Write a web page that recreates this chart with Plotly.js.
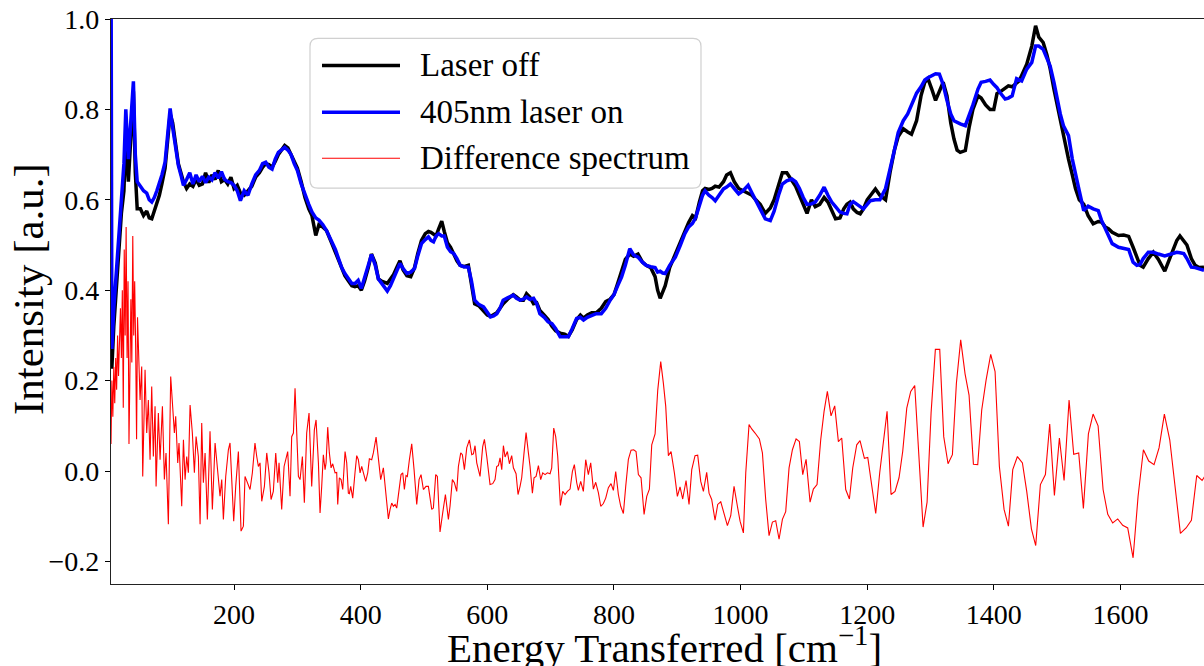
<!DOCTYPE html>
<html>
<head>
<meta charset="utf-8">
<script src="https://cdn.plot.ly/plotly-3.0.1.min.js"></script>
<style>
html,body{margin:0;padding:0;background:#fff;overflow:hidden;}
#chart{width:1204px;height:666px;}
</style>
</head>
<body>
<div id="chart"></div>
<script>
// ---- data ----
const shiftX = [5.6,7,10,14,18,22,26,29,33,37,41,44,47,52,57,62,66,70,74,78,82,86,91,95,99,103,107,112,116,120,125,130,135,140,145,150,155,160,165,170,175,180,185,190,195,200,205,210,216,222,228,234,240,245,250,255,260,265,270,275,280,285,290,295,300,306,312,318,323,329,334,340,346,354,360,365,370,375,381,386,391,396,401,406,412,417,423,428,433,438,442,447,452,457,462,467,473,479,485,490,496,502,507,511,515,519,523,528,532,537,542,547,552,557,563,570,575,580,587,594,600,605,610,615,620,625,632,641,646,652,657,662,667,673,678,683,690,696,702,708,715,722,728,734,741,747,752,758,765,772,780,787,794,800,806,812,818,825,831,838,845,851,858,865,869,873,877,881,888,897,905,912,918,924,929,935,940,944,950,955,960,966,973,978,984,990,997,1004,1012,1018,1024,1031,1039,1047,1053,1060,1066,1073,1081,1087,1093,1099,1105,1112,1118,1125,1132,1138,1144,1150,1157,1163,1168,1173,1178,1184,1189,1194,1200,1205,1213,1220,1229,1236,1243,1249,1257,1264,1270,1278,1285,1291,1296,1302,1308,1314,1320,1326,1332,1337,1342,1347,1355,1361,1367,1375,1380,1387,1394,1400,1405,1411,1418,1423,1429,1436,1440,1444,1452,1460,1466,1471,1478,1484,1489,1495,1500,1505,1510,1518,1524,1529,1535,1542,1549,1557,1565,1570,1576,1581,1587,1597,1605,1613,1620,1626,1631,1636,1644,1652,1660,1670,1680,1689,1694,1700,1705,1712,1718,1724,1732];
const laserOn = [1.2,0.27,0.36,0.45,0.53,0.60,0.68,0.80,0.69,0.78,0.862,0.70,0.64,0.63,0.62,0.615,0.60,0.595,0.605,0.62,0.635,0.655,0.683,0.74,0.802,0.76,0.727,0.676,0.655,0.632,0.645,0.66,0.635,0.655,0.64,0.652,0.638,0.65,0.644,0.66,0.648,0.662,0.645,0.64,0.638,0.632,0.62,0.598,0.62,0.61,0.635,0.655,0.665,0.68,0.683,0.672,0.668,0.69,0.705,0.71,0.716,0.71,0.70,0.68,0.665,0.635,0.61,0.59,0.573,0.56,0.555,0.545,0.532,0.51,0.49,0.47,0.45,0.437,0.425,0.415,0.415,0.422,0.404,0.425,0.455,0.479,0.455,0.425,0.415,0.405,0.398,0.41,0.425,0.44,0.459,0.448,0.437,0.44,0.448,0.475,0.503,0.512,0.518,0.51,0.507,0.52,0.525,0.52,0.52,0.495,0.485,0.481,0.47,0.455,0.452,0.451,0.42,0.378,0.368,0.363,0.35,0.341,0.343,0.348,0.36,0.378,0.383,0.389,0.382,0.378,0.38,0.385,0.38,0.382,0.37,0.348,0.34,0.33,0.326,0.315,0.297,0.298,0.297,0.315,0.3375,0.34,0.334,0.34,0.345,0.348,0.348,0.36,0.378,0.39,0.41,0.429,0.455,0.492,0.478,0.473,0.462,0.455,0.452,0.45,0.44,0.442,0.438,0.437,0.455,0.473,0.5,0.525,0.54,0.548,0.56,0.59,0.61,0.62,0.61,0.605,0.598,0.61,0.624,0.628,0.635,0.625,0.613,0.62,0.632,0.615,0.598,0.58,0.558,0.554,0.575,0.61,0.635,0.642,0.646,0.64,0.625,0.605,0.59,0.591,0.595,0.61,0.628,0.61,0.595,0.585,0.573,0.57,0.569,0.59,0.596,0.59,0.585,0.58,0.59,0.598,0.6,0.6,0.625,0.665,0.71,0.749,0.775,0.79,0.81,0.836,0.85,0.865,0.87,0.875,0.879,0.878,0.855,0.82,0.79,0.775,0.771,0.768,0.764,0.785,0.81,0.845,0.86,0.862,0.865,0.855,0.848,0.835,0.823,0.825,0.83,0.868,0.866,0.863,0.889,0.904,0.94,0.94,0.933,0.915,0.896,0.86,0.823,0.79,0.764,0.742,0.69,0.661,0.62,0.576,0.586,0.58,0.576,0.555,0.536,0.52,0.503,0.495,0.493,0.49,0.462,0.455,0.457,0.47,0.484,0.484,0.48,0.476,0.48,0.484,0.483,0.481,0.47,0.451,0.45,0.447,0.444];
const laserOff = [0.23,0.23,0.32,0.41,0.50,0.57,0.62,0.74,0.64,0.74,0.84,0.66,0.58,0.58,0.565,0.575,0.56,0.558,0.575,0.59,0.61,0.635,0.67,0.73,0.79,0.77,0.73,0.68,0.66,0.64,0.625,0.635,0.63,0.645,0.632,0.635,0.66,0.638,0.655,0.645,0.665,0.64,0.645,0.635,0.65,0.625,0.632,0.615,0.61,0.62,0.63,0.65,0.66,0.672,0.68,0.678,0.672,0.685,0.70,0.71,0.72,0.715,0.70,0.685,0.67,0.64,0.605,0.58,0.565,0.521,0.545,0.54,0.532,0.505,0.485,0.465,0.45,0.432,0.42,0.41,0.408,0.41,0.40,0.42,0.45,0.48,0.46,0.425,0.42,0.418,0.415,0.425,0.435,0.45,0.465,0.445,0.432,0.43,0.45,0.48,0.51,0.525,0.53,0.528,0.525,0.52,0.535,0.553,0.53,0.505,0.495,0.48,0.465,0.455,0.452,0.455,0.41,0.37,0.365,0.355,0.345,0.342,0.345,0.35,0.36,0.37,0.38,0.39,0.385,0.378,0.378,0.392,0.385,0.37,0.372,0.355,0.345,0.335,0.32,0.31,0.305,0.303,0.298,0.312,0.335,0.345,0.338,0.345,0.35,0.35,0.36,0.375,0.38,0.39,0.415,0.44,0.468,0.48,0.475,0.48,0.462,0.455,0.45,0.43,0.40,0.382,0.395,0.41,0.45,0.48,0.505,0.53,0.55,0.565,0.56,0.595,0.62,0.625,0.623,0.625,0.63,0.628,0.64,0.655,0.66,0.64,0.625,0.62,0.615,0.61,0.6,0.59,0.57,0.582,0.6,0.635,0.66,0.66,0.642,0.63,0.61,0.59,0.57,0.6,0.585,0.59,0.605,0.595,0.575,0.558,0.56,0.58,0.59,0.595,0.58,0.572,0.569,0.58,0.6,0.61,0.624,0.61,0.6,0.66,0.71,0.74,0.757,0.75,0.745,0.775,0.83,0.86,0.868,0.845,0.82,0.84,0.86,0.83,0.77,0.735,0.71,0.705,0.709,0.76,0.8,0.83,0.825,0.81,0.80,0.80,0.835,0.84,0.848,0.852,0.85,0.86,0.863,0.875,0.9,0.94,0.985,0.96,0.948,0.92,0.89,0.845,0.81,0.775,0.74,0.69,0.655,0.625,0.6,0.59,0.565,0.547,0.552,0.551,0.54,0.536,0.528,0.521,0.522,0.519,0.495,0.47,0.455,0.451,0.47,0.484,0.468,0.442,0.478,0.51,0.52,0.51,0.5,0.47,0.455,0.45,0.451];
const diffX = [5.6,7,8.5,10,11.5,13,14.5,16,17.5,19,20.5,22,23.5,25,26.5,28,29.5,31,32.5,34,35.5,37,38.5,40,41.5,43,44.5,46,47.5,49,51.5,54.1,55.7,59.4,62,64.6,67.3,69.9,72.5,75.2,76.8,80.4,83.1,86.8,89.9,92.5,96.2,99.9,103,105.7,107.8,111,113,117.3,120,122.6,125.2,127.8,130.5,134.1,137.3,140,143.6,146.3,148.9,151.5,154.2,157.8,162,165.7,170,174.2,177.8,180.5,183.1,186.8,191,193.6,197.3,199.4,202.6,206.8,211,214.7,217.3,221.5,225.2,228.9,233,235.8,238.4,241,243.7,247.9,251.6,255.2,258.4,262,265.8,269,271,275.2,279,284.7,288.4,291,293.7,296.3,298.9,301.6,304.2,307.9,311,314.7,318.4,322.6,326.8,329.5,333.2,335.8,338.4,341,343.7,345.3,347.9,350.5,353.2,355.8,359.5,362.1,363.7,366.3,369,371.6,375.3,377.9,380.5,382.1,384.2,387.4,391,393.7,396.3,399,401.6,404.2,407.9,411.1,413.7,417.4,420,424.3,427.9,431.6,435.8,440,443.7,446.4,449,451.6,454.3,456.9,460.6,463.7,466.4,469,471.6,473.7,476.9,480.6,484.3,488.5,492.2,495.3,499,503.2,506.9,512.2,514.8,518.5,521.1,525.3,529.5,533.8,538.5,541.1,544.8,548,551.7,554.3,558,560.6,563.8,567.5,571.7,575.4,578,580.6,583.3,588.5,592.7,595.4,599.1,604.3,608.5,612.2,614.8,617.5,620.1,622.8,625.4,628,631.7,634.9,638.5,641.2,645.4,648.5,651.7,654.3,658,661.2,664.9,667.5,671.2,673.8,677,680.7,684.3,687.5,691.2,694.9,699.1,701.7,704.9,708,711.2,715.4,719.1,722.8,726.5,730.7,734.4,737.5,741.2,743.8,747.5,751.7,755.4,759.6,763.3,767.5,771.2,775.4,779.1,783.3,787,791.2,795.4,799.1,802.8,807,810.7,814.9,818.6,822.8,827,831.2,834.9,838.6,842.8,847.6,851.8,856,859.7,865,869.2,873.9,878.1,881.8,886,890.2,895.5,900.2,904.4,908.6,913.9,918.6,922.9,928.1,932.3,937.1,941.3,946.5,950.2,954.4,959.7,963.9,968.7,973.9,979.2,984.5,989.7,995,999.2,1004.5,1008.2,1013.4,1017.6,1022.9,1029.7,1034.5,1039.7,1045,1050.3,1055.5,1060.8,1066.1,1071.3,1076.6,1081.9,1087.7,1092.9,1098.2,1103.5,1109.8,1115,1120.8,1126.6,1131.9,1137.1,1142.9,1148.7,1154.5,1159.8,1166.1,1171.9,1177.2,1183.5,1188.7,1195.6,1200.9,1207.2,1213.5,1219.8,1225.6,1231.4,1237.7,1244,1250.3,1256.1,1262.5,1268.8,1275.1,1281.4,1288.3,1294.6,1300.9,1307.7,1314.6,1320.9,1327.7,1334.6,1340.9,1347.7,1354.6,1360.9,1367.8,1374.6,1380.9,1387.8,1395.1,1402,1408.8,1416.2,1423.1,1429.9,1437.3,1445.2,1452,1459.4,1466.2,1473.6,1481.5,1488.3,1495.7,1503.6,1511,1518.9,1526.2,1534.1,1541.5,1549.4,1556.8,1564.7,1572.6,1580,1587.8,1595.7,1603.6,1611.5,1620,1627.9,1636.3,1644.7,1653.1,1661,1669.4,1677.9,1686.3,1694.7,1703.7,1712.1,1720.5,1729,1733];
const diffY = [0.06,0.20,0.12,0.23,0.15,0.25,0.18,0.30,0.21,0.27,0.36,0.25,0.40,0.14,0.49,0.30,0.54,0.25,0.42,0.06,0.32,0.38,0.24,0.52,0.30,0.42,0.28,0.07,0.34,0.26,0.157,0.231,-0.012,0.224,0.084,0.157,0.025,0.187,0.032,0.143,-0.034,0.128,0.025,0.143,-0.019,0.04,-0.118,0.209,0.135,0.084,0.121,0.018,0.062,-0.078,0.069,-0.019,0.032,-0.004,0.146,0.084,-0.004,0.076,0.032,-0.118,0.106,-0.026,0.04,-0.107,0.088,-0.085,0.062,-0.004,-0.056,-0.019,-0.107,-0.012,0.047,0.062,-0.070,-0.111,-0.034,0.043,-0.133,-0.122,-0.012,-0.026,-0.041,-0.004,0.062,0.032,0.01,0.018,-0.067,-0.034,0.04,-0.004,-0.063,-0.045,0.04,-0.026,0.018,-0.085,0.01,0.043,-0.056,0.076,0.084,0.183,0.098,-0.012,-0.019,0.032,-0.070,0.084,0.128,-0.034,0.091,0.113,0.018,-0.093,-0.034,0.036,0.003,0.018,0.097,0.04,0.007,0.016,-0.004,-0.003,-0.074,-0.015,-0.019,-0.041,0.043,0.018,-0.049,-0.05,-0.034,-0.06,-0.004,0.034,0.025,-0.004,0.01,-0.004,-0.023,-0.004,0.027,0.025,0.04,0.075,0.025,-0.019,0.007,-0.056,-0.106,-0.085,-0.071,-0.078,-0.074,-0.082,-0.041,-0.008,-0.004,-0.041,-0.01,-0.012,0.025,0.06,0.003,-0.074,-0.019,-0.008,-0.041,-0.034,-0.034,-0.085,-0.082,-0.008,-0.012,-0.135,-0.093,-0.052,-0.107,-0.078,-0.019,-0.026,-0.045,0.01,0.04,0.036,0.003,0.051,0.069,0.036,0.038,0.056,0.018,-0.012,0.054,0.07,0.032,-0.03,-0.028,-0.019,0.01,0.012,0.029,0.003,0.056,0.031,0.043,0.016,0.034,0.007,-0.006,-0.052,-0.034,-0.015,0.04,0.085,0.04,0.01,-0.049,-0.015,-0.012,0.012,-0.019,-0.004,-0.008,-0.004,-0.006,0.007,0.095,0.076,0.032,-0.076,-0.045,-0.052,-0.045,-0.04,-0.001,0.014,-0.026,-0.043,-0.023,-0.045,0.025,-0.008,0.018,-0.04,-0.025,-0.048,-0.078,-0.072,-0.06,-0.037,-0.028,-0.043,-0.001,-0.052,-0.078,-0.094,-0.034,0.026,0.046,0.047,0.043,-0.008,-0.015,-0.096,-0.056,-0.04,0.058,0.082,0.179,0.242,0.194,0.143,0.034,0.043,-0.004,-0.056,-0.035,-0.062,-0.021,-0.074,0.003,0.034,0.035,-0.023,-0.045,-0.003,-0.049,-0.063,-0.109,-0.074,-0.068,-0.093,-0.121,-0.099,-0.034,-0.078,-0.111,-0.137,-0.004,0.103,0.093,0.084,0.071,0.04,-0.063,-0.143,-0.113,-0.11,-0.151,-0.107,-0.09,0.007,0.047,0.071,0.065,-0.008,0.026,-0.069,-0.04,-0.03,0.069,0.132,0.176,0.122,0.144,0.065,0.073,-0.041,-0.062,0.007,0.058,0.067,0.028,0.03,-0.034,-0.094,-0.004,0.069,0.132,-0.052,-0.045,-0.015,0.043,0.139,0.176,0.189,0.025,-0.124,-0.069,0.128,0.269,0.269,0.076,0.016,0.036,0.194,0.29,0.215,0.168,0.015,0.014,0.135,0.201,0.258,0.22,0.01,-0.085,-0.122,0.003,0.032,0.018,-0.045,-0.128,-0.165,-0.03,-0.008,0.104,-0.054,0.073,-0.021,0.157,0.037,0.04,-0.083,0.082,0.126,0.1,-0.041,-0.096,-0.115,-0.106,-0.12,-0.126,-0.192,-0.056,0.047,0.022,0.014,0.051,0.126,0.069,-0.034,-0.138,-0.126,-0.109,-0.01,-0.021,-0.012];
const seriesNames = ["Laser off", "405nm laser on", "Difference spectrum"];
const xTicks = [200,400,600,800,1000,1200,1400,1600];
const yTicks = [-0.2,0.0,0.2,0.4,0.6,0.8,1.0];
const xTitle = 'Energy Transferred [cm<sup>−1</sup>]';
const yTitle = 'Intensity [a.u.]';

const FONT = 'Liberation Serif, Times New Roman, Times, serif';
const W = 1204, H = 666;
const M = {l:111, r:0, t:18.5, b:81.5};
const PW = W - M.l - M.r, PH = H - M.t - M.b;
function px2paperX(px){ return (px - M.l)/PW; }
function px2paperY(py){ return (H - M.b - py)/PH; }

const traces = [
  {x: shiftX, y: laserOff, type:'scatter', mode:'lines', name: seriesNames[0],
   line:{color:'#000000', width:3.5}, showlegend:false},
  {x: shiftX, y: laserOn, type:'scatter', mode:'lines', name: seriesNames[1],
   line:{color:'#0000ff', width:3.5}, showlegend:false},
  {x: diffX, y: diffY, type:'scatter', mode:'lines', name: seriesNames[2],
   line:{color:'#ff0000', width:1.1}, showlegend:false}
];

// manual legend (matplotlib-style box)
const bx0 = px2paperX(310), bx1 = px2paperX(701), by0 = px2paperY(188), by1 = px2paperY(38);
const rx = 8/PW, ry = 8/PH;
const boxPath = `M${bx0+rx},${by1} L${bx1-rx},${by1} Q${bx1},${by1} ${bx1},${by1-ry} L${bx1},${by0+ry} Q${bx1},${by0} ${bx1-rx},${by0} L${bx0+rx},${by0} Q${bx0},${by0} ${bx0},${by0+ry} L${bx0},${by1-ry} Q${bx0},${by1} ${bx0+rx},${by1} Z`;
const legendRows = [65, 112, 158];
const legendColors = ['#000000','#0000ff','#ff0000'];
const legendWidths = [3.5,3.5,1.1];
const shapes = [{type:'path', xref:'paper', yref:'paper', path: boxPath,
  line:{color:'#d0d0d0', width:1.2}, fillcolor:'rgba(255,255,255,0.85)', layer:'above'}];
const annotations = [];
legendRows.forEach((py,i)=>{
  shapes.push({type:'line', xref:'paper', yref:'paper', x0:px2paperX(322), x1:px2paperX(400),
    y0:px2paperY(py), y1:px2paperY(py), line:{color:legendColors[i], width:legendWidths[i]}, layer:'above'});
  annotations.push({xref:'paper', yref:'paper', x:px2paperX(418), y:px2paperY(py), xanchor:'left', yanchor:'middle',
    text: seriesNames[i], showarrow:false, font:{family:FONT, size:33, color:'#000'}});
});
// axis titles as annotations (the reference's x title runs past the bottom edge)
annotations.push({xref:'paper', yref:'paper', x:px2paperX(664), y:px2paperY(646), xanchor:'center', yanchor:'middle',
  text:xTitle, showarrow:false, font:{family:FONT, size:41, color:'#000'}});
annotations.push({xref:'paper', yref:'paper', x:px2paperX(28), y:px2paperY(289), xanchor:'center', yanchor:'middle',
  textangle:-90, text:yTitle, showarrow:false, font:{family:FONT, size:43, color:'#000'}});

const layout = {
  width: W, height: H,
  margin: M,
  paper_bgcolor:'#ffffff', plot_bgcolor:'#ffffff',
  showlegend:false,
  font:{family:FONT, color:'#000', size:28},
  xaxis:{range:[5.6,1732], tickvals:xTicks, ticks:'outside', ticklen:5, tickwidth:1, tickcolor:'#000',
    showline:true, linecolor:'#222', linewidth:1.2, mirror:true, showgrid:false, zeroline:false,
    tickfont:{family:FONT, size:28, color:'#000'}, automargin:false},
  yaxis:{range:[-0.25,1.0], tickvals:yTicks, tickformat:'.1f', ticks:'outside', ticklen:5, tickwidth:1, tickcolor:'#000',
    showline:true, linecolor:'#222', linewidth:1.2, mirror:false, showgrid:false, zeroline:false,
    tickfont:{family:FONT, size:28, color:'#000'}, automargin:false},
  shapes: shapes,
  annotations: annotations
};

Plotly.newPlot('chart', traces, layout, {displayModeBar:false, staticPlot:true});
</script>
</body>
</html>
